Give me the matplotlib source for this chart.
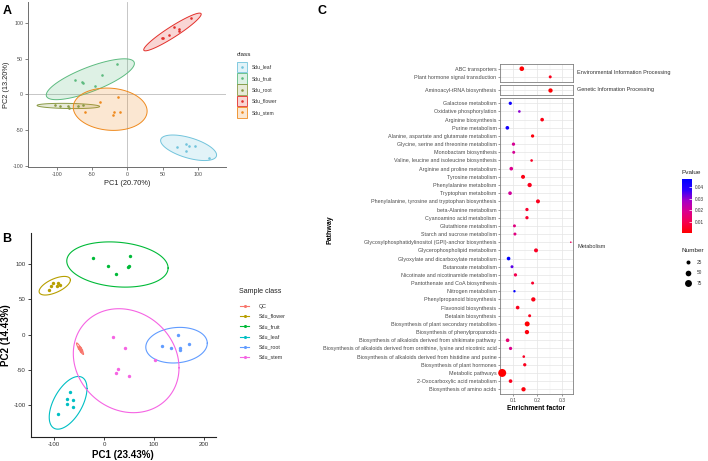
import numpy as np
import matplotlib
matplotlib.use('Agg')
import matplotlib.pyplot as plt
from matplotlib.colors import LinearSegmentedColormap, Normalize
from matplotlib.patches import Rectangle, Polygon
from matplotlib.cm import ScalarMappable

plt.rcParams['font.family'] = ['Liberation Sans', 'DejaVu Sans']
plt.rcParams['axes.unicode_minus'] = False

# ---------------- data: panel A ----------------
a_classes = ['Sdu_leaf', 'Sdu_fruit', 'Sdu_root', 'Sdu_flower', 'Sdu_stem']
a_colors = ['#72C4DC', '#5DBB80', '#8A9A45', '#E3302B', '#EF8A1E']
a_leaf_x = [70.2, 83.0, 87.2, 95.7, 83.0, 116.5]
a_leaf_y = [-73.7, -70.0, -72.8, -71.9, -79.3, -88.9]
a_fruit_x = [-74.0, -64.5, -62.2, -46.1, -35.7, -14.0]
a_fruit_y = [19.4, 17.5, 16.1, 11.1, 26.3, 41.9]
a_root_x = [-102.4, -94.8, -84.4, -82.0, -70.2, -62.2]
a_root_y = [-15.2, -15.7, -16.6, -18.9, -16.6, -15.2]
a_flower_x = [48.9, 51.3, 58.9, 66.4, 73.0, 74.0, 90.5]
a_flower_y = [78.3, 79.3, 83.4, 94.5, 90.8, 88.5, 106.0]
a_stem_x = [-39.0, -13.5, -59.8, -18.2, -19.6, -10.2]
a_stem_y = [-10.1, -4.1, -24.9, -25.3, -29.0, -24.9]

# ---------------- data: panel B ----------------
b_classes = ['QC', 'Sdu_flower', 'Sdu_fruit', 'Sdu_leaf', 'Sdu_root', 'Sdu_stem']
b_colors = ['#F8766D', '#B79F00', '#00BA38', '#00BFC4', '#619CFF', '#F564E3']
b_qc_x = [-50.5, -49.3, -47.0, -45.7, -48.0]
b_qc_y = [-17.0, -19.3, -20.8, -22.6, -18.4]
b_flower_x = [-110.7, -106.7, -101.3, -94.0, -91.3, -87.3]
b_flower_y = [62.7, 68.4, 73.6, 68.9, 72.6, 70.3]
b_fruit_x = [-22.0, 7.3, 24.0, 48.7, 49.3, 52.7]
b_fruit_y = [109.0, 97.6, 85.8, 95.3, 97.6, 111.3]
b_leaf_x = [-68.0, -74.7, -74.0, -62.0, -61.3, -91.3]
b_leaf_y = [-80.7, -90.6, -97.6, -92.9, -102.8, -112.7]
b_root_x = [147.3, 116.0, 134.0, 150.7, 151.3, 169.3]
b_root_y = [-0.5, -16.0, -18.4, -18.4, -21.2, -13.7]
b_stem_x = [18.0, 42.0, 28.0, 24.0, 50.0, 102.7]
b_stem_y = [-3.8, -18.4, -49.0, -53.8, -58.5, -36.3]

# ---------------- data: panel C ----------------
env_paths = ['ABC transporters', 'Plant hormone signal transduction']
env_ef = [0.136, 0.252]
env_p = [0.001, 0.004]
env_n = [34, 14]
gen_paths = ['Aminoacyl-tRNA biosynthesis']
gen_ef = [0.252]
gen_p = [0.001]
gen_n = [29]
met_paths = [
    'Galactose metabolism', 'Oxidative phosphorylation', 'Arginine biosynthesis',
    'Purine metabolism', 'Alanine, aspartate and glutamate metabolism',
    'Glycine, serine and threonine metabolism', 'Monobactam biosynthesis',
    'Valine, leucine and isoleucine biosynthesis', 'Arginine and proline metabolism',
    'Tyrosine metabolism', 'Phenylalanine metabolism', 'Tryptophan metabolism',
    'Phenylalanine, tyrosine and tryptophan biosynthesis', 'beta-Alanine metabolism',
    'Cyanoamino acid metabolism', 'Glutathione metabolism', 'Starch and sucrose metabolism',
    'Glycosylphosphatidylinositol (GPI)-anchor biosynthesis', 'Glycerophospholipid metabolism',
    'Glyoxylate and dicarboxylate metabolism', 'Butanoate metabolism',
    'Nicotinate and nicotinamide metabolism', 'Pantothenate and CoA biosynthesis',
    'Nitrogen metabolism', 'Phenylpropanoid biosynthesis', 'Flavonoid biosynthesis',
    'Betalain biosynthesis', 'Biosynthesis of plant secondary metabolites',
    'Biosynthesis of phenylpropanoids',
    'Biosynthesis of alkaloids derived from shikimate pathway',
    'Biosynthesis of alkaloids derived from ornithine, lysine and nicotinic acid',
    'Biosynthesis of alkaloids derived from histidine and purine',
    'Biosynthesis of plant hormones', 'Metabolic pathways',
    '2-Oxocarboxylic acid metabolism', 'Biosynthesis of amino acids']
met_ef = [0.089, 0.126, 0.219, 0.077, 0.180, 0.102, 0.103, 0.176, 0.093, 0.141,
          0.168, 0.088, 0.202, 0.157, 0.157, 0.106, 0.108, 0.336, 0.194, 0.082,
          0.096, 0.110, 0.180, 0.106, 0.183, 0.119, 0.168, 0.158, 0.157, 0.078,
          0.090, 0.144, 0.148, 0.056, 0.090, 0.143]
met_p = [0.044, 0.030, 0.003, 0.043, 0.002, 0.020, 0.020, 0.005, 0.019, 0.003,
         0.004, 0.021, 0.004, 0.006, 0.006, 0.017, 0.017, 0.012, 0.005, 0.047,
         0.034, 0.010, 0.006, 0.046, 0.003, 0.004, 0.004, 0.001, 0.002, 0.015,
         0.019, 0.005, 0.004, 0.0005, 0.004, 0.002]
met_n = [17, 11, 21, 21, 17, 17, 14, 11, 21, 25, 29, 21, 25, 17, 17, 14, 14, 4, 25, 21,
         14, 17, 14, 9, 29, 21, 14, 39, 29, 21, 17, 11, 17, 100, 21, 29]
c_groups = ['Environmental Information Processing', 'Genetic Information Processing', 'Metabolism']
size_legend = [25, 50, 75]
p_ticks = [0.01, 0.02, 0.03, 0.04]

# ---------------- helpers ----------------
W, H = 708, 461
fig = plt.figure(figsize=(W / 100, H / 100), dpi=100)


def rect(l, t, r, b):
    return [l / W, 1 - b / H, (r - l) / W, (b - t) / H]


def cov_trob(X, nu=5, maxit=25, tol=0.01):
    X = np.asarray(X, float)
    n, p = X.shape
    wt = np.ones(n)
    loc = X.mean(axis=0)
    w = np.sqrt(wt)
    for _ in range(maxit):
        w0 = w
        Xc = X - loc
        A = np.sqrt(w / w.sum())[:, None] * Xc
        _, d, vt = np.linalg.svd(A, full_matrices=False)
        wX = Xc @ vt.T @ np.diag(1 / d)
        Q = (wX ** 2).sum(axis=1)
        w = (wt * (nu + p)) / (nu + Q)
        loc = (w[:, None] * X).sum(axis=0) / w.sum()
        if np.all(np.abs(w - w0) < tol):
            break
    Xc = X - loc
    cov = (np.sqrt(w)[:, None] * Xc).T @ (np.sqrt(w)[:, None] * Xc) / wt.sum()
    return loc, cov


def ellipse_pts(x, y, robust, level=0.95, n=120):
    x = np.asarray(x, float)
    y = np.asarray(y, float)
    d = len(x) - 1
    qf = d / 2 * ((1 - level) ** (-2 / d) - 1)
    r = np.sqrt(2 * qf)
    if robust:
        loc, cov = cov_trob(np.column_stack([x, y]))
    else:
        loc, cov = np.array([x.mean(), y.mean()]), np.cov(np.vstack([x, y]))
    L = np.linalg.cholesky(cov)
    t = np.linspace(0, 2 * np.pi, n)
    u = np.column_stack([np.cos(t), np.sin(t)])
    return loc + r * (u @ L.T)


# overlay for legends / letters (pixel coordinates)
ov = fig.add_axes([0, 0, 1, 1], zorder=10)
ov.set_xlim(0, W)
ov.set_ylim(H, 0)
ov.axis('off')
ov.patch.set_alpha(0)

# ---------------- panel A ----------------
axA = fig.add_axes(rect(28, 2, 226, 167.3))
a_xs = [a_leaf_x, a_fruit_x, a_root_x, a_flower_x, a_stem_x]
a_ys = [a_leaf_y, a_fruit_y, a_root_y, a_flower_y, a_stem_y]
axA.axvline(0, color='#BDBDBD', lw=0.6, zorder=0)
axA.axhline(0, color='#BDBDBD', lw=0.6, zorder=0)
for xs, ys, col in zip(a_xs, a_ys, a_colors):
    e = ellipse_pts(xs, ys, robust=True)
    axA.add_patch(Polygon(e, closed=True, facecolor=col, alpha=0.2, edgecolor='none'))
    axA.add_patch(Polygon(e, closed=True, facecolor='none', edgecolor=col, lw=0.7))
    axA.scatter(xs, ys, s=3.5, color=col, linewidths=0, zorder=3)
axA.set_xlim(-140.7, 140)
axA.set_ylim(-102, 129)
axA.set_xticks([-100, -50, 0, 50, 100])
axA.set_yticks([-100, -50, 0, 50, 100])
for sp in ['top', 'right']:
    axA.spines[sp].set_visible(False)
for sp in ['left', 'bottom']:
    axA.spines[sp].set_color('#6E6E6E')
    axA.spines[sp].set_linewidth(0.7)
axA.tick_params(labelsize=3.8, colors='#6E6E6E', labelcolor='#4D4D4D', length=2, width=0.6, pad=1.5)
axA.set_xlabel('PC1 (20.70%)', fontsize=5.3, color='#222222', labelpad=2)
axA.set_ylabel('PC2 (13.20%)', fontsize=5.3, color='#222222', labelpad=2)

# legend A
ov.text(237, 54, 'class', fontsize=4.6, color='#222222', va='center', ha='left')
for i, (lab, col) in enumerate(zip(a_classes, a_colors)):
    y0 = 61.5 + i * 11.3
    ov.add_patch(Rectangle((237.3, y0 + 0.4), 9.6, 10.5, facecolor=col, alpha=0.2, edgecolor='none'))
    ov.add_patch(Rectangle((237.3, y0 + 0.4), 9.6, 10.5, facecolor='none', edgecolor=col, lw=0.6))
    ov.scatter([242.1], [y0 + 5.65], s=3.5, color=col, linewidths=0)
    ov.text(252, y0 + 5.65, lab, fontsize=3.6, color='#333333', va='center', ha='left')

# ---------------- panel B ----------------
axB = fig.add_axes(rect(30.7, 233, 215.7, 437.3))
b_xs = [b_qc_x, b_flower_x, b_fruit_x, b_leaf_x, b_root_x, b_stem_x]
b_ys = [b_qc_y, b_flower_y, b_fruit_y, b_leaf_y, b_root_y, b_stem_y]
for xs, ys, col in zip(b_xs, b_ys, b_colors):
    e = ellipse_pts(xs, ys, robust=False)
    axB.plot(e[:, 0], e[:, 1], color=col, lw=0.8)
    axB.scatter(xs, ys, s=6, color=col, linewidths=0, zorder=3)
axB.set_xlim(-146.6, 223)
axB.set_ylim(-145, 144)
axB.set_xticks([-100, 0, 100, 200])
axB.set_yticks([-100, -50, 0, 50, 100])
for sp in ['top', 'right']:
    axB.spines[sp].set_visible(False)
for sp in ['left', 'bottom']:
    axB.spines[sp].set_color('#222222')
    axB.spines[sp].set_linewidth(0.8)
axB.tick_params(labelsize=4.4, colors='#222222', labelcolor='#333333', length=2.2, width=0.6, pad=1.5)
axB.set_xlabel('PC1 (23.43%)', fontsize=7, fontweight='bold', labelpad=1.5)
axB.set_ylabel('PC2 (14.43%)', fontsize=7, fontweight='bold', labelpad=1.5)

# legend B
ov.text(239.3, 291.7, 'Sample class', fontsize=5.1, color='#222222', va='center', ha='left')
for i, (lab, col) in enumerate(zip(b_classes, b_colors)):
    y = 306 + i * 10.2
    ov.plot([240, 249.3], [y, y], color=col, lw=0.8)
    ov.scatter([244.7], [y], s=5, color=col, linewidths=0)
    ov.text(258.3, y, lab, fontsize=3.9, color='#333333', va='center', ha='left')

# ---------------- panel C ----------------
cmap = LinearSegmentedColormap.from_list(
    'pv', ['#FF0000', '#F5004E', '#DA008E', '#A500C6', '#2B00FF', '#0000FF'])
all_p = env_p + gen_p + met_p
norm = Normalize(vmin=min(all_p), vmax=max(all_p))
s_row = 8.171


def c_size(n):
    return 0.33 * np.asarray(n, float)


c_sets = [(env_paths, env_ef, env_p, env_n, 68.7),
          (gen_paths, gen_ef, gen_p, gen_n, 90.0),
          (met_paths, met_ef, met_p, met_n, 103.3)]
for gi, (paths, ef, pv, nn, y_first) in enumerate(c_sets):
    n = len(paths)
    top = y_first - 0.6 * s_row
    bot = y_first + (n - 1 + 0.6) * s_row
    ax = fig.add_axes(rect(500, top, 573, bot))
    ypos = np.arange(n)
    ax.set_xlim(0.047, 0.345)
    ax.set_ylim(n - 1 + 0.6, -0.6)
    ax.set_xticks([0.1, 0.2, 0.3])
    ax.set_xticks([0.05, 0.15, 0.25], minor=True)
    ax.set_yticks(ypos)
    ax.set_yticklabels(paths)
    ax.grid(True, which='major', color='#E5E5E5', lw=0.5)
    ax.grid(True, which='minor', axis='x', color='#F0F0F0', lw=0.3)
    ax.set_axisbelow(True)
    ax.scatter(ef, ypos, s=c_size(nn), c=pv, cmap=cmap, norm=norm, linewidths=0,
               zorder=3, clip_on=False)
    for sp in ax.spines.values():
        sp.set_color('#7F7F7F')
        sp.set_linewidth(0.6)
    ax.tick_params(axis='y', labelsize=3.85, labelcolor='#4D4D4D', colors='#4D4D4D',
                   length=1.5, width=0.4, pad=1)
    ax.tick_params(axis='x', which='minor', length=0)
    if gi < 2:
        ax.tick_params(axis='x', which='major', labelbottom=False, length=0)
    else:
        ax.tick_params(axis='x', which='major', labelsize=3.6, labelcolor='#4D4D4D',
                       colors='#4D4D4D', length=1.5, width=0.4, pad=1)
        ax.set_xlabel('Enrichment factor', fontsize=4.9, fontweight='bold', labelpad=1.5)
    ov.text(577, (top + bot) / 2, c_groups[gi], fontsize=4.0, color='#333333',
            va='center', ha='left')

ov.text(330, 230, 'Pathway', fontsize=5, fontweight='bold', rotation=90,
        va='center', ha='center')

# colorbar legend
ov.text(682, 172.5, 'Pvalue', fontsize=4.6, color='#222222', va='center', ha='left')
cax = fig.add_axes(rect(682, 179, 692, 233))
cb = fig.colorbar(ScalarMappable(norm=norm, cmap=cmap), cax=cax)
cb.set_ticks(p_ticks)
cb.set_ticklabels([f'{t:.2f}' for t in p_ticks])
cb.outline.set_visible(False)
cax.tick_params(labelsize=3.4, labelcolor='#333333', length=2, width=0.5,
                colors='white', direction='in', pad=2)
for t in cax.get_yticklabels():
    t.set_color('#333333')

# size legend
ov.text(682, 250, 'Number', fontsize=4.6, color='#222222', va='center', ha='left')
for i, nv in enumerate(size_legend):
    y = 262 + i * 10.7
    ov.scatter([687.5], [y], s=c_size(nv), color='black', linewidths=0)
    ov.text(696.5, y, str(nv), fontsize=3.4, color='#333333', va='center', ha='left')

# panel letters
ov.text(2.5, 13.5, 'A', fontsize=9, fontweight='bold', va='baseline', ha='left')
ov.text(2.5, 242, 'B', fontsize=9, fontweight='bold', va='baseline', ha='left')
ov.text(318, 14, 'C', fontsize=9, fontweight='bold', va='baseline', ha='left')

fig.savefig('out.png', dpi=100)
